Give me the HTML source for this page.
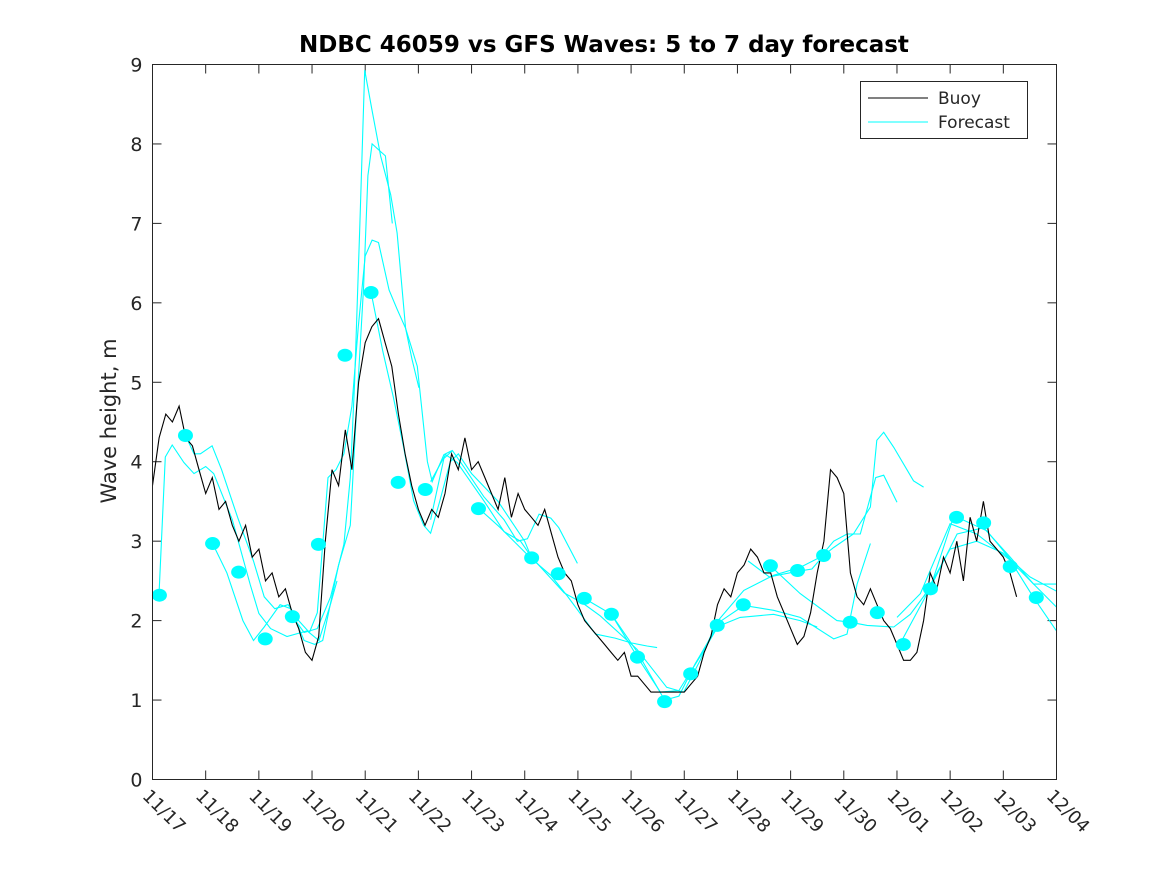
<!DOCTYPE html>
<html><head><meta charset="utf-8"><style>
body{margin:0;background:#fff}
svg{display:block;font-family:"DejaVu Sans","Liberation Sans",sans-serif}
</style></head><body>
<svg id="chart" width="1167" height="875" viewBox="0 0 1167 875" xmlns="http://www.w3.org/2000/svg">
<rect width="1167" height="875" fill="#fff"/>
<text x="604" y="52" text-anchor="middle" font-size="23" font-weight="bold" fill="#000">NDBC 46059 vs GFS Waves: 5 to 7 day forecast</text>
<text transform="translate(116,421) rotate(-90)" text-anchor="middle" font-size="21" fill="#262626">Wave height, m</text>
<g id="ticks"></g>
<g id="plot"></g>
<rect x="152.5" y="64.5" width="904" height="715" fill="none" stroke="#262626" stroke-width="1"/>
<g>
<rect x="860.5" y="81.5" width="167" height="57" fill="#fff" stroke="#262626"/>
<line x1="868" y1="98" x2="928" y2="98" stroke="#000" stroke-width="1"/>
<text x="938" y="104" font-size="17" fill="#262626">Buoy</text>
<line x1="868" y1="122" x2="928" y2="122" stroke="#00ffff" stroke-width="1"/>
<text x="938" y="128" font-size="17" fill="#262626">Forecast</text>
</g>
</svg>
<script>
const xTickLabels = ["11/17","11/18","11/19","11/20","11/21","11/22","11/23","11/24","11/25","11/26","11/27","11/28","11/29","11/30","12/01","12/02","12/03","12/04"];
const yTicks = [0,1,2,3,4,5,6,7,8,9];
const buoyStep = 0.125;
const buoyValues = [
3.7,4.3,4.6,4.5,4.7,4.3,4.2,3.9,
3.6,3.8,3.4,3.5,3.2,3.0,3.2,2.8,
2.9,2.5,2.6,2.3,2.4,2.1,1.9,1.6,
1.5,1.8,3.0,3.9,3.7,4.4,3.9,5.0,
5.5,5.7,5.8,5.5,5.2,4.6,4.1,3.7,
3.4,3.2,3.4,3.3,3.6,4.1,3.9,4.3,
3.9,4.0,3.8,3.6,3.4,3.8,3.3,3.6,
3.4,3.3,3.2,3.4,3.1,2.8,2.6,2.5,
2.2,2.0,1.9,1.8,1.7,1.6,1.5,1.6,
1.3,1.3,1.2,1.1,1.1,1.1,1.1,1.1,
1.1,1.2,1.3,1.6,1.8,2.2,2.4,2.3,
2.6,2.7,2.9,2.8,2.6,2.6,2.3,2.1,
1.9,1.7,1.8,2.1,2.6,3.0,3.9,3.8,
3.6,2.6,2.3,2.2,2.4,2.2,2.0,1.9,
1.7,1.5,1.5,1.6,2.0,2.6,2.4,2.8,
2.6,3.0,2.5,3.3,3.0,3.5,3.0,2.9,
2.8,2.6,2.3];
const dotDays = [0.13,0.62,1.13,1.62,2.12,2.63,3.12,3.62,4.11,4.62,5.13,6.13,7.13,7.63,8.12,8.63,9.12,9.63,10.12,10.62,11.11,11.62,12.13,12.62,13.12,13.63,14.12,14.63,15.12,15.63,16.13,16.62];
const dotValues = [2.32,4.33,2.97,2.61,1.77,2.05,2.96,5.34,6.13,3.74,3.65,3.41,2.79,2.59,2.28,2.08,1.54,0.98,1.33,1.94,2.2,2.69,2.63,2.82,1.98,2.1,1.7,2.4,3.3,3.23,2.68,2.29];
const fcRun1 = [[0.12,2.3],[0.24,4.06],[0.37,4.21],[0.59,3.99],[0.78,3.85],[1.0,3.94],[1.15,3.85],[1.5,3.27],[1.84,2.45],[2.0,2.09],[2.22,1.9],[2.53,1.8],[2.91,1.87],[3.13,1.75],[3.35,2.21],[3.47,2.5]];
const fcRun2 = [[0.62,4.33],[0.78,4.1],[0.9,4.1],[1.12,4.2],[1.3,3.9],[1.6,3.3],[1.9,2.75],[2.1,2.3],[2.3,2.15],[2.55,2.2],[2.75,2.0],[2.95,1.85],[3.1,2.1],[3.3,3.8],[3.45,3.9],[3.6,4.1],[3.75,4.7],[3.87,5.7],[4.0,6.59],[4.13,6.79],[4.25,6.76],[4.45,6.16],[4.6,5.92],[4.76,5.68],[4.98,5.2],[5.17,4.0],[5.26,3.75],[5.48,4.09],[5.63,4.14]];
const fcRun3 = [[1.13,2.97],[1.4,2.6],[1.7,2.0],[1.9,1.75],[2.1,1.92],[2.4,2.2],[2.6,2.15],[2.85,1.75],[3.05,1.7],[3.2,1.75],[3.5,2.7],[3.72,3.2],[3.85,4.8],[3.97,6.2],[4.05,7.6],[4.13,8.0],[4.38,7.85],[4.51,7.0]];
const fcRun4 = [[2.63,2.05],[2.85,1.85],[3.1,1.9],[3.35,2.3],[3.6,2.96],[3.72,3.8],[3.8,5.0],[3.9,7.0],[3.99,8.93],[4.13,8.42],[4.29,7.85],[4.48,7.36],[4.6,6.88],[4.76,5.68],[4.88,5.29],[5.01,4.93]];
const fcRun5 = [[4.11,6.13],[4.33,5.39],[4.53,4.81],[4.72,4.19],[4.91,3.51],[5.1,3.2],[5.23,3.1],[5.4,3.5],[5.6,4.0],[5.75,4.1],[6.0,3.85],[6.5,3.5],[7.0,3.0],[7.13,2.79]];
const fcRun6 = [[5.23,3.27],[5.48,4.04],[5.64,4.14],[5.85,3.94],[6.23,3.56],[6.61,3.27],[6.86,3.0],[7.05,3.03],[7.27,3.34],[7.49,3.29],[7.64,3.17],[7.99,2.72]];
const fcRun7 = [[5.23,3.75],[5.51,4.09],[5.73,3.99],[6.23,3.51],[6.61,3.12],[6.92,3.0],[7.14,2.79],[7.74,2.35],[8.11,2.21],[8.42,2.06],[9.11,1.64],[9.67,1.16],[9.99,1.1],[10.3,1.5],[10.61,1.98],[11.12,2.38],[11.68,2.57],[12.18,2.67],[12.56,2.8],[12.81,3.0],[13.06,3.09],[13.31,3.09],[13.6,3.8],[13.75,3.83],[14.0,3.49]];
const fcRun8 = [[6.14,3.41],[6.54,3.17],[7.11,2.79],[7.49,2.57],[7.8,2.31],[8.33,1.83],[8.7,1.78],[9.0,1.72],[9.3,1.68],[9.49,1.66]];
const fcRun9 = [[8.12,2.28],[8.63,2.08],[9.12,1.6],[9.63,1.0],[9.9,1.05],[10.2,1.45],[10.61,1.92],[11.05,2.04],[11.68,2.08],[12.18,2.0],[12.5,1.92]];
const fcRun10 = [[8.63,2.08],[9.12,1.54],[9.55,1.1],[9.9,1.12],[10.3,1.55],[10.7,2.0],[11.12,2.19],[11.68,2.13],[12.18,2.04],[12.81,1.77],[13.06,1.83],[13.25,2.46],[13.5,2.97]];
const fcRun11 = [[11.2,2.75],[11.6,2.55],[12.12,2.62],[12.4,2.65],[12.62,2.82],[12.81,2.92],[13.18,3.09],[13.5,3.43],[13.62,4.27],[13.75,4.37],[13.94,4.18],[14.31,3.76],[14.5,3.68]];
const fcRun12 = [[11.62,2.69],[12.18,2.34],[12.87,2.0],[13.12,1.98],[13.44,1.94],[13.94,1.92],[14.25,2.08],[14.63,2.42],[15.13,3.09],[15.63,3.17],[16.13,2.8],[16.57,2.46],[17.0,2.46]];
const fcRun13 = [[14.0,2.04],[14.44,2.34],[15.0,3.22],[15.5,3.09],[16.13,2.76],[16.57,2.29],[17.0,1.87]];
const fcRun14 = [[14.06,1.71],[14.63,2.42],[15.07,3.32],[15.69,3.13],[16.26,2.67],[17.0,2.17]];
const fcRun15 = [[14.5,2.3],[15.0,2.9],[15.5,3.0],[16.0,2.85],[16.5,2.55],[17.0,2.37]];
const fcRuns = [fcRun1,fcRun2,fcRun3,fcRun4,fcRun5,fcRun6,fcRun7,fcRun8,fcRun9,fcRun10,fcRun11,fcRun12,fcRun13,fcRun14,fcRun15];

const X0=152.5, X1=1056.5, Y0=779.5, Y1=64.5, DAYS=17, YMAX=9;
function xs(d){return X0+(X1-X0)*d/DAYS;}
function ys(v){return Y0-(Y0-Y1)*v/YMAX;}
const NS="http://www.w3.org/2000/svg";
const ticks=document.getElementById('ticks');
const plot=document.getElementById('plot');
function mk(tag,attrs,parent){const e=document.createElementNS(NS,tag);for(const k in attrs)e.setAttribute(k,attrs[k]);parent.appendChild(e);return e;}

yTicks.forEach((v)=>{
  const y=ys(v);
  const t1=mk('line',{x1:X0,y1:y,x2:X0+9,y2:y,stroke:'#262626'},ticks);
  
  
  const t2=mk('line',{x1:X1,y1:y,x2:X1-9,y2:y,stroke:'#262626'},ticks);
  
  
  const lb=mk('text',{x:X0-10,y:y+7,'text-anchor':'end','font-size':'19',fill:'#262626'},ticks);
  lb.textContent=String(v);
  
  
});
xTickLabels.forEach((s,i)=>{
  const x=xs(i);
  const t1=mk('line',{x1:x,y1:Y0,x2:x,y2:Y0-9,stroke:'#262626'},ticks);
  
  
  const t2=mk('line',{x1:x,y1:Y1,x2:x,y2:Y1+9,stroke:'#262626'},ticks);
  
  
  const lb=mk('text',{transform:'translate('+(x-11)+',797) rotate(45)','font-size':'18',fill:'#262626'},ticks);
  lb.textContent=s;
  
  
});

fcRuns.forEach((run)=>{
  const p=mk('polyline',{points:run.map(q=>xs(q[0]).toFixed(1)+','+ys(q[1]).toFixed(1)).join(' '),fill:'none',stroke:'#00ffff','stroke-width':'1.1'},plot);
  
  
});
const bp=mk('polyline',{points:buoyValues.map((v,i)=>xs(i*buoyStep).toFixed(1)+','+ys(v).toFixed(1)).join(' '),fill:'none',stroke:'#000','stroke-width':'1.1'},plot);


dotDays.forEach((d,i)=>{
  const c=mk('ellipse',{cx:xs(d),cy:ys(dotValues[i]),rx:7.5,ry:6.5,fill:'#00ffff'},plot);
  
  
});
</script>
</body></html>
